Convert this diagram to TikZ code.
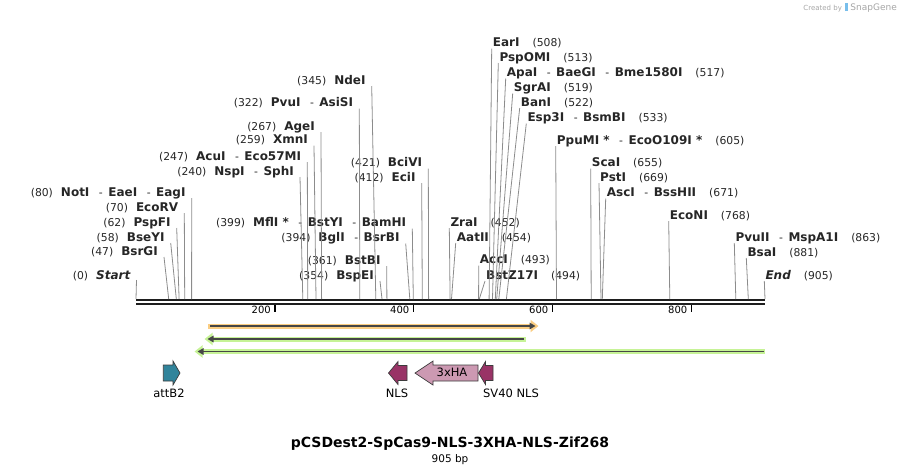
\documentclass[tikz,border=0pt]{standalone}
\usepackage{fontspec}
\setmainfont{DejaVu Sans}
\usetikzlibrary{arrows.meta}
\definecolor{siteline}{RGB}{140,140,140}
\definecolor{seqline}{RGB}{30,30,30}
\definecolor{orangehalo}{RGB}{250,205,130}
\definecolor{greenhalo}{RGB}{198,243,150}
\definecolor{barcore}{RGB}{70,70,70}
\definecolor{nlsfill}{RGB}{153,51,102}
\definecolor{hafill}{RGB}{204,153,178}
\definecolor{attfill}{RGB}{49,132,155}
\definecolor{featline}{RGB}{60,60,60}
\definecolor{logoblue}{RGB}{120,190,235}
\newcommand{\enz}[1]{{\fontsize{12}{14}\selectfont\bfseries #1}}
\newcommand{\dsh}{\hspace{9.5pt}-\hspace{5.5pt}}

\begin{document}
\begin{tikzpicture}[
      x=1pt, y=-1pt,
      sitelbl/.style={inner sep=0pt, text height=8.8pt, text depth=0pt,
                      font=\fontsize{10.8}{12}\selectfont, text=black!85},
      cutline/.style={draw=siteline, line width=0.8pt},
      seq/.style={line width=2.3pt, seqline},
      tickmark/.style={line width=1.5pt, black},
      ticklbl/.style={inner sep=0pt, anchor=east, text height=7.3pt, text depth=0pt,
                      font=\fontsize{10}{12}\selectfont},
      halo/.style={line width=5pt},
      core/.style={line width=1.8pt, barcore},
      feat/.style={draw=featline, line width=0.7pt},
      featlbl/.style={inner sep=0pt, font=\fontsize{11.5}{13}\selectfont},
  ]
    \useasboundingbox (0,0) rectangle (901,475);

    % sequence line and ruler
    \coordinate (seqL) at (136,0);
    \coordinate (seqR) at (765,0);
    \draw[seq] (136,300.2) -- (765,300.2);
    \draw[seq] (136,304.2) -- (765,304.2);
    \coordinate (t200) at (275,305);
    \coordinate (t400) at (413.5,305);
    \coordinate (t600) at (552.5,305);
    \coordinate (t800) at (691.5,305);
    \draw[tickmark] (t200) -- ++(0,7);
    \draw[tickmark] (t400) -- ++(0,7);
    \draw[tickmark] (t600) -- ++(0,7);
    \draw[tickmark] (t800) -- ++(0,7);
    \node[ticklbl] (l200) at (271,310) {200};
    \node[ticklbl] (l400) at (409.5,310) {400};
    \node[ticklbl] (l600) at (548.5,310) {600};
    \node[ticklbl] (l800) at (687.5,310) {800};

    % cut sites on the sequence
    \coordinate (s0)   at (136,299);   \coordinate (s47)  at (168.7,299);
    \coordinate (s58)  at (176.3,299); \coordinate (s62)  at (179.1,299);
    \coordinate (s70)  at (184.7,299); \coordinate (s80)  at (191.6,299);
    \coordinate (s240) at (302.8,299); \coordinate (s247) at (307.7,299);
    \coordinate (s259) at (316.0,299); \coordinate (s267) at (321.6,299);
    \coordinate (s322) at (359.8,299); \coordinate (s345) at (375.8,299);
    \coordinate (s354) at (382.0,299); \coordinate (s361) at (386.9,299);
    \coordinate (s394) at (409.8,299); \coordinate (s399) at (413.3,299);
    \coordinate (s412) at (422.3,299); \coordinate (s421) at (428.6,299);
    \coordinate (s452) at (450.1,299); \coordinate (s454) at (451.5,299);
    \coordinate (s493) at (478.6,299); \coordinate (s494) at (479.3,299);
    \coordinate (s508) at (489.1,299); \coordinate (s513) at (492.5,299);
    \coordinate (s517) at (495.3,299); \coordinate (s519) at (496.7,299);
    \coordinate (s522) at (498.8,299); \coordinate (s533) at (506.4,299);
    \coordinate (s605) at (556.5,299); \coordinate (s655) at (591.2,299);
    \coordinate (s669) at (601.0,299); \coordinate (s671) at (602.3,299);
    \coordinate (s768) at (669.8,299); \coordinate (s863) at (735.8,299);
    \coordinate (s881) at (748.3,299); \coordinate (s905) at (765,299);

    % labels left of their line
    \node[sitelbl, anchor=east] (start) at (130.5,275) {(0)\hspace{8pt}\enz{\itshape Start}};
    \node[sitelbl, anchor=east] (bsrGI) at (158,251) {(47)\hspace{8pt}\enz{BsrGI}};
    \node[sitelbl, anchor=east] (bseYI) at (164.7,237) {(58)\hspace{8pt}\enz{BseYI}};
    \node[sitelbl, anchor=east] (pspFI) at (170.7,222) {(62)\hspace{8pt}\enz{PspFI}};
    \node[sitelbl, anchor=east] (ecoRV) at (178.3,207) {(70)\hspace{8pt}\enz{EcoRV}};
    \node[sitelbl, anchor=east] (notI)  at (185.7,192) {(80)\hspace{8pt}\enz{NotI}\dsh\enz{EaeI}\dsh\enz{EagI}};
    \node[sitelbl, anchor=east] (nspI)  at (294,171) {(240)\hspace{8pt}\enz{NspI}\dsh\enz{SphI}};
    \node[sitelbl, anchor=east] (acuI)  at (301.3,156) {(247)\hspace{8pt}\enz{AcuI}\dsh\enz{Eco57MI}};
    \node[sitelbl, anchor=east] (xmnI)  at (308,139.5) {(259)\hspace{8pt}\enz{XmnI}};
    \node[sitelbl, anchor=east] (ageI)  at (315,126) {(267)\hspace{8pt}\enz{AgeI}};
    \node[sitelbl, anchor=east] (pvuI)  at (353.3,102.5) {(322)\hspace{8pt}\enz{PvuI}\dsh\enz{AsiSI}};
    \node[sitelbl, anchor=east] (ndeI)  at (365.7,80) {(345)\hspace{8pt}\enz{NdeI}};
    \node[sitelbl, anchor=east] (bciVI) at (422.3,162.5) {(421)\hspace{8pt}\enz{BciVI}};
    \node[sitelbl, anchor=east] (eciI)  at (415.7,177) {(412)\hspace{8pt}\enz{EciI}};
    \node[sitelbl, anchor=east] (mflI)  at (406.3,222.5) {(399)\hspace{8pt}\enz{MflI *}\dsh\enz{BstYI}\dsh\enz{BamHI}};
    \node[sitelbl, anchor=east] (bglI)  at (399.7,237.5) {(394)\hspace{8pt}\enz{BglI}\dsh\enz{BsrBI}};
    \node[sitelbl, anchor=east] (bstBI) at (380.7,260) {(361)\hspace{8pt}\enz{BstBI}};
    \node[sitelbl, anchor=east] (bspEI) at (374,275) {(354)\hspace{8pt}\enz{BspEI}};

    % labels right of their line
    \node[sitelbl, anchor=west] (earI)   at (492.7,42.5) {\enz{EarI}\hspace{13pt}(508)};
    \node[sitelbl, anchor=west] (pspOMI) at (499.3,57) {\enz{PspOMI}\hspace{13pt}(513)};
    \node[sitelbl, anchor=west] (apaI)   at (506.7,72.5) {\enz{ApaI}\dsh\enz{BaeGI}\dsh\enz{Bme1580I}\hspace{13pt}(517)};
    \node[sitelbl, anchor=west] (sgrAI)  at (513.7,87.5) {\enz{SgrAI}\hspace{13pt}(519)};
    \node[sitelbl, anchor=west] (banI)   at (520.7,102) {\enz{BanI}\hspace{13pt}(522)};
    \node[sitelbl, anchor=west] (esp3I)  at (527.3,117.5) {\enz{Esp3I}\dsh\enz{BsmBI}\hspace{13pt}(533)};
    \node[sitelbl, anchor=west] (ppuMI)  at (556.7,140) {\enz{PpuMI *}\dsh\enz{EcoO109I *}\hspace{13pt}(605)};
    \node[sitelbl, anchor=west] (scaI)   at (591.7,162.5) {\enz{ScaI}\hspace{13pt}(655)};
    \node[sitelbl, anchor=west] (pstI)   at (600,177) {\enz{PstI}\hspace{13pt}(669)};
    \node[sitelbl, anchor=west] (ascI)   at (606.7,192.5) {\enz{AscI}\dsh\enz{BssHII}\hspace{13pt}(671)};
    \node[sitelbl, anchor=west] (ecoNI)  at (669.7,215) {\enz{EcoNI}\hspace{13pt}(768)};
    \node[sitelbl, anchor=west] (zraI)   at (450.3,222) {\enz{ZraI}\hspace{13pt}(452)};
    \node[sitelbl, anchor=west] (aatII)  at (456.7,237) {\enz{AatII}\hspace{13pt}(454)};
    \node[sitelbl, anchor=west] (pvuII)  at (735.3,237) {\enz{PvuII}\dsh\enz{MspA1I}\hspace{13pt}(863)};
    \node[sitelbl, anchor=west] (bsaI)   at (747.3,252) {\enz{BsaI}\hspace{13pt}(881)};
    \node[sitelbl, anchor=west] (accI)   at (479.7,259.5) {\enz{AccI}\hspace{13pt}(493)};
    \node[sitelbl, anchor=west] (bstZ17I) at (486,275) {\enz{BstZ17I}\hspace{13pt}(494)};
    \node[sitelbl, anchor=west] (endlbl) at (765.3,275) {\enz{\itshape End}\hspace{13pt}(905)};

    % lines from labels to sites
    \draw[cutline] (start.east) ++(6,5) -- (s0);
    \draw[cutline] (bsrGI.east) ++(6,6) -- (s47);
    \draw[cutline] (bseYI.east) ++(6,6) -- (s58);
    \draw[cutline] (pspFI.east) ++(6,6) -- (s62);
    \draw[cutline] (ecoRV.east) ++(6,6) -- (s70);
    \draw[cutline] (notI.east)  ++(6,6) -- (s80);
    \draw[cutline] (nspI.east)  ++(6,6) -- (s240);
    \draw[cutline] (acuI.east)  ++(6,6) -- (s247);
    \draw[cutline] (xmnI.east)  ++(6,6) -- (s259);
    \draw[cutline] (ageI.east)  ++(6,6) -- (s267);
    \draw[cutline] (pvuI.east)  ++(6,6) -- (s322);
    \draw[cutline] (ndeI.east)  ++(6,6) -- (s345);
    \draw[cutline] (bciVI.east) ++(6,6) -- (s421);
    \draw[cutline] (eciI.east)  ++(6,6) -- (s412);
    \draw[cutline] (mflI.east)  ++(6,6) -- (s399);
    \draw[cutline] (bglI.east)  ++(6,6) -- (s394);
    \draw[cutline] (bstBI.east) ++(6,6) -- (s361);
    \draw[cutline] (bspEI.east) ++(6,6) -- (s354);
    \draw[cutline] (earI.west)   ++(-1,6) -- (s508);
    \draw[cutline] (pspOMI.west) ++(-1,6) -- (s513);
    \draw[cutline] (apaI.west)   ++(-1,6) -- (s517);
    \draw[cutline] (sgrAI.west)  ++(-1,6) -- (s519);
    \draw[cutline] (banI.west)   ++(-1,6) -- (s522);
    \draw[cutline] (esp3I.west)  ++(-1,6) -- (s533);
    \draw[cutline] (ppuMI.west)  ++(-1,6) -- (s605);
    \draw[cutline] (scaI.west)   ++(-1,6) -- (s655);
    \draw[cutline] (pstI.west)   ++(-1,6) -- (s669);
    \draw[cutline] (ascI.west)   ++(-1,6) -- (s671);
    \draw[cutline] (ecoNI.west)  ++(-1,6) -- (s768);
    \draw[cutline] (zraI.west)   ++(-1,6) -- (s452);
    \draw[cutline] (aatII.west)  ++(-1,6) -- (s454);
    \draw[cutline] (pvuII.west)  ++(-1,6) -- (s863);
    \draw[cutline] (bsaI.west)   ++(-1,6) -- (s881);
    \draw[cutline] (accI.west)   ++(-1,6) -- (s493);
    \draw[cutline] (bstZ17I.west) ++(-1,6) -- (s494);
    \draw[cutline] (endlbl.west) ++(-1,6) -- (s905);

    % primer / ORF bars
    \coordinate (orgA) at (208,326);   \coordinate (orgB) at (538.5,326);
    \coordinate (grnA) at (526,339);   \coordinate (grnB) at (204.5,339);
    \coordinate (grnC) at (765,351.5); \coordinate (grnD) at (194.5,351.5);
    \draw[halo, orangehalo, -{Triangle[length=8pt,width=12pt]}] (orgA) -- (orgB);
    \draw[core, -{Triangle[length=6pt,width=6.5pt]}] (210,326) -- (535.5,326);
    \draw[halo, greenhalo, -{Triangle[length=8pt,width=12pt]}] (grnA) -- (grnB);
    \draw[core, -{Triangle[length=6pt,width=6.5pt]}] (524,339) -- (207.5,339);
    \draw[halo, greenhalo, -{Triangle[length=8pt,width=12pt]}] (grnC) -- (grnD);
    \draw[core, -{Triangle[length=6pt,width=6.5pt]}] (763.5,351.5) -- (197.5,351.5);

    % features
    \draw[feat, fill=attfill] (163.3,365) -- (173,365) -- (173,361) -- (180,373)
        -- (173,385) -- (173,381) -- (163.3,381) -- cycle;
    \draw[feat, fill=nlsfill] (407,365.5) -- (398,365.5) -- (398,361.5) -- (388.5,373)
        -- (398,384.5) -- (398,380.5) -- (407,380.5) -- cycle;
    \draw[feat, fill=hafill] (478,365) -- (433,365) -- (433,361) -- (415,373)
        -- (433,385) -- (433,381) -- (478,381) -- cycle;
    \draw[feat, fill=nlsfill] (493,365.5) -- (485.5,365.5) -- (485.5,361.5) -- (478.5,373)
        -- (485.5,384.5) -- (485.5,380.5) -- (493,380.5) -- cycle;
    \node[featlbl] (haLbl)   at (452,372.5) {3xHA};
    \node[featlbl] (attLbl)  at (169,393) {attB2};
    \node[featlbl] (nlsLbl)  at (397,393) {NLS};
    \node[featlbl] (sv40Lbl) at (511,393) {SV40 NLS};

    % title
    \node[font=\fontsize{14}{16}\selectfont\bfseries, inner sep=0pt] (title) at (450,443.5)
        {pCSDest2-SpCas9-NLS-3XHA-NLS-Zif268};
    \node[font=\fontsize{10.5}{12}\selectfont, inner sep=0pt] (len) at (450,459.5) {905 bp};

    % credit
    \node[anchor=east, inner sep=0pt, text=black!35] (credit) at (897,7.5)
        {\fontsize{7}{8}\selectfont Created by\hspace{3pt}{\color{logoblue}\rule[-1pt]{3.5pt}{8pt}}\hspace{2pt}\fontsize{9}{10}\selectfont SnapGene};

  \end{tikzpicture}
\end{document}
